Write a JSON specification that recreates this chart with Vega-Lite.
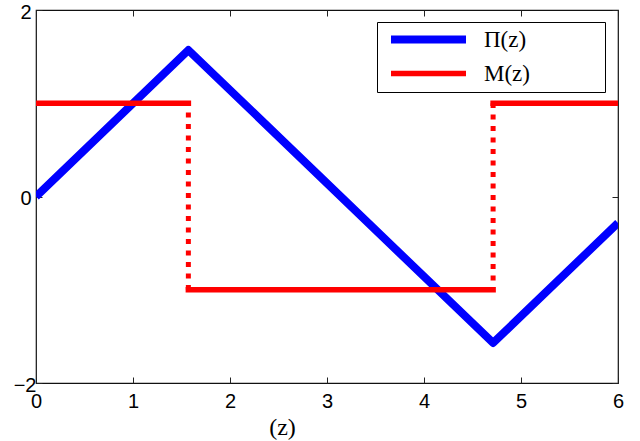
{
  "$schema": "https://vega.github.io/schema/vega-lite/v6.json",
  "width": 582,
  "height": 373,
  "autosize": {"type": "none"},
  "padding": {"left": 36, "top": 10, "right": 22, "bottom": 58},
  "background": "white",
  "datasets": {
    "pi": [
      {"z": 0, "v": 0, "series": "Π(z)"},
      {"z": 1.5708, "v": 1.5708, "series": "Π(z)"},
      {"z": 4.7124, "v": -1.5708, "series": "Π(z)"},
      {"z": 6, "v": -0.2832, "series": "Π(z)"}
    ],
    "m": [
      {"z": 0, "v": 1.0, "seg": "a", "series": "M(z)"},
      {"z": 1.5708, "v": 1.0, "seg": "a", "series": "M(z)"},
      {"z": 1.5708, "v": -1.0, "seg": "b", "series": "M(z)"},
      {"z": 4.7124, "v": -1.0, "seg": "b", "series": "M(z)"},
      {"z": 4.7124, "v": 1.0, "seg": "c", "series": "M(z)"},
      {"z": 6, "v": 1.0, "seg": "c", "series": "M(z)"}
    ],
    "jumps": [
      {"z": 1.5708, "v": 0.9, "seg": "d1"},
      {"z": 1.5708, "v": -1.0, "seg": "d1"},
      {"z": 4.7124, "v": -0.9, "seg": "d2"},
      {"z": 4.7124, "v": 1.0, "seg": "d2"}
    ]
  },
  "layer": [
    {
      "data": {"name": "pi"},
      "mark": {"type": "line", "clip": true, "strokeJoin": "round", "strokeCap": "butt"},
      "encoding": {
        "x": {"field": "z", "type": "quantitative",
              "scale": {"domain": [0, 6], "nice": false, "zero": false},
              "axis": {"orient": "bottom", "values": [0, 1, 2, 3, 4, 5, 6], "title": "(z)", "labelFlush": false,
                       "titleFont": "Liberation Serif", "titleFontSize": 24, "titleFontWeight": "normal",
                       "titleColor": "#000", "titleX": 246, "titleY": 51, "titleBaseline": "alphabetic", "titleAnchor": null, "titleAlign": "center"}},
        "y": {"field": "v", "type": "quantitative",
              "scale": {"domain": [-2, 2], "nice": false, "zero": false},
              "axis": {"orient": "left", "values": [-2, 0, 2], "title": null, "labelFlush": false,
                       "labelPadding": {"condition": {"test": "datum.value == -2", "value": 6}, "value": 11},
                       "labelOffset": 2}},
        "color": {"field": "series", "type": "nominal",
                  "scale": {"domain": ["Π(z)", "M(z)"], "range": ["#0000ff", "#ff0000"]},
                  "legend": {"orient": "none", "legendX": 341, "legendY": 12, "title": null,
                             "labelExpr": "datum.label + '\u00a0\u00a0\u00a0\u00a0\u00a0\u00a0\u00a0\u00a0\u00a0\u00a0\u00a0\u00a0\u200b'"}},
        "strokeWidth": {"field": "series", "type": "nominal",
                  "scale": {"domain": ["Π(z)", "M(z)"], "range": [8, 5.5]},
                  "legend": {"orient": "none", "legendX": 341, "legendY": 12, "title": null,
                             "labelExpr": "datum.label + '\u00a0\u00a0\u00a0\u00a0\u00a0\u00a0\u00a0\u00a0\u00a0\u00a0\u00a0\u00a0\u200b'"}}
      }
    },
    {
      "data": {"name": "m"},
      "mark": {"type": "line", "clip": true, "strokeCap": "square"},
      "encoding": {
        "x": {"field": "z", "type": "quantitative",
              "axis": {"orient": "top", "values": [0, 1, 2, 3, 4, 5, 6], "labels": false, "title": null}},
        "y": {"field": "v", "type": "quantitative",
              "axis": {"orient": "right", "values": [-2, 0, 2], "labels": false, "title": null}},
        "detail": {"field": "seg"},
        "color": {"field": "series", "type": "nominal"},
        "strokeWidth": {"field": "series", "type": "nominal"}
      }
    },
    {
      "data": {"name": "jumps"},
      "mark": {"type": "line", "clip": true, "color": "#ff0000", "strokeWidth": 5, "strokeDash": [5, 6.5], "strokeCap": "butt"},
      "encoding": {
        "x": {"field": "z", "type": "quantitative", "axis": null},
        "y": {"field": "v", "type": "quantitative", "axis": null},
        "detail": {"field": "seg"}
      }
    }
  ],
  "config": {
    "view": {"stroke": "#111", "strokeWidth": 1.2},
    "axis": {
      "domain": false, "grid": false,
      "tickSize": -6, "tickColor": "#222", "tickWidth": 1,
      "labelFont": "Liberation Sans", "labelFontSize": 20, "labelColor": "#000"
    },
    "axisBottom": {"labelPadding": 14},
    "legend": {
      "strokeColor": "#000", "fillColor": "#fff", "padding": 6, "cornerRadius": 0,
      "symbolType": "M-1,0L9,0", "symbolSize": 225, "symbolOffset": 4,
      "labelFont": "Liberation Serif", "labelFontSize": 23, "labelColor": "#000",
      "labelOffset": 74, "rowPadding": 6
    }
  }
}
